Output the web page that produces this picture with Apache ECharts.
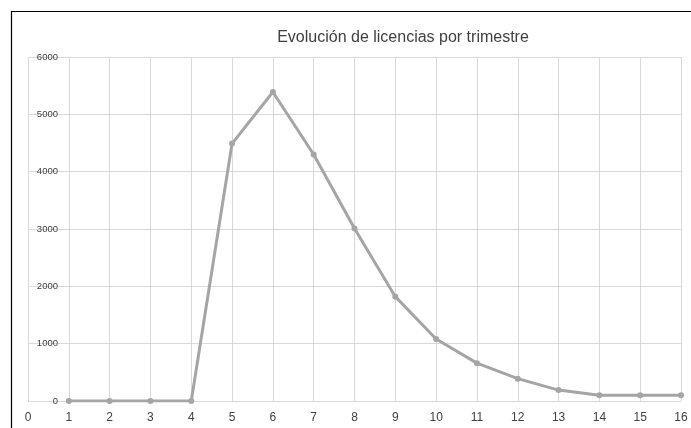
<!DOCTYPE html>
<html>
<head>
<meta charset="utf-8">
<script src="https://cdn.jsdelivr.net/npm/echarts@6/dist/echarts.min.js"></script>
<style>html,body{margin:0;padding:0;background:#fff}#c{width:691px;height:428px}</style>
</head>
<body>
<div id="c"></div>
<script>
const titleText = "Evolución de licencias por trimestre";
const quarters = [1, 2, 3, 4, 5, 6, 7, 8, 9, 10, 11, 12, 13, 14, 15, 16];
const licencias = [0, 0, 0, 0, 4490, 5390, 4300, 3010, 1820, 1080, 660, 390, 190, 100, 100, 100];
const yTicks = [0, 1000, 2000, 3000, 4000, 5000, 6000];
const xTicks = [0, 1, 2, 3, 4, 5, 6, 7, 8, 9, 10, 11, 12, 13, 14, 15, 16];

const chart = echarts.init(document.getElementById('c'), null, {renderer: 'canvas'});
const points = quarters.map((q, i) => [q, licencias[i]]);
chart.setOption({
  backgroundColor: '#fff',
  animation: false,
  title: {
    text: titleText,
    left: 398, top: 25, textAlign: 'center',
    textStyle: {fontFamily: 'Liberation Sans', fontSize: 16, fontWeight: 'normal', color: '#404040'}
  },
  graphic: [{
    type: 'rect', shape: {x: 11.5, y: 11.5, width: 800, height: 600},
    style: {fill: 'none', stroke: '#000', lineWidth: 1.2}, silent: true
  }],
  grid: {left: 28, right: 10, top: 57, bottom: 27},
  xAxis: {
    type: 'value', min: xTicks[0], max: xTicks[xTicks.length - 1], interval: 1,
    axisLine: {show: false}, axisTick: {show: false},
    splitLine: {show: true, lineStyle: {color: '#D9D9D9', width: 1}},
    axisLabel: {margin: 11, fontFamily: 'Liberation Sans', fontSize: 12, color: '#404040'}
  },
  yAxis: {
    type: 'value', min: yTicks[0], max: yTicks[yTicks.length - 1], interval: 1000,
    axisLine: {show: false}, axisTick: {show: false},
    splitLine: {show: true, lineStyle: {color: '#D9D9D9', width: 1}},
    axisLabel: {margin: -30, fontFamily: 'Liberation Sans', fontSize: 9.5, color: '#404040',
      formatter: v => String(v)}
  },
  series: [{
    type: 'line', data: points,
    symbol: 'circle', symbolSize: 6,
    lineStyle: {color: '#A5A5A5', width: 3},
    itemStyle: {color: '#A5A5A5'}
  }]
});
</script>
</body>
</html>
